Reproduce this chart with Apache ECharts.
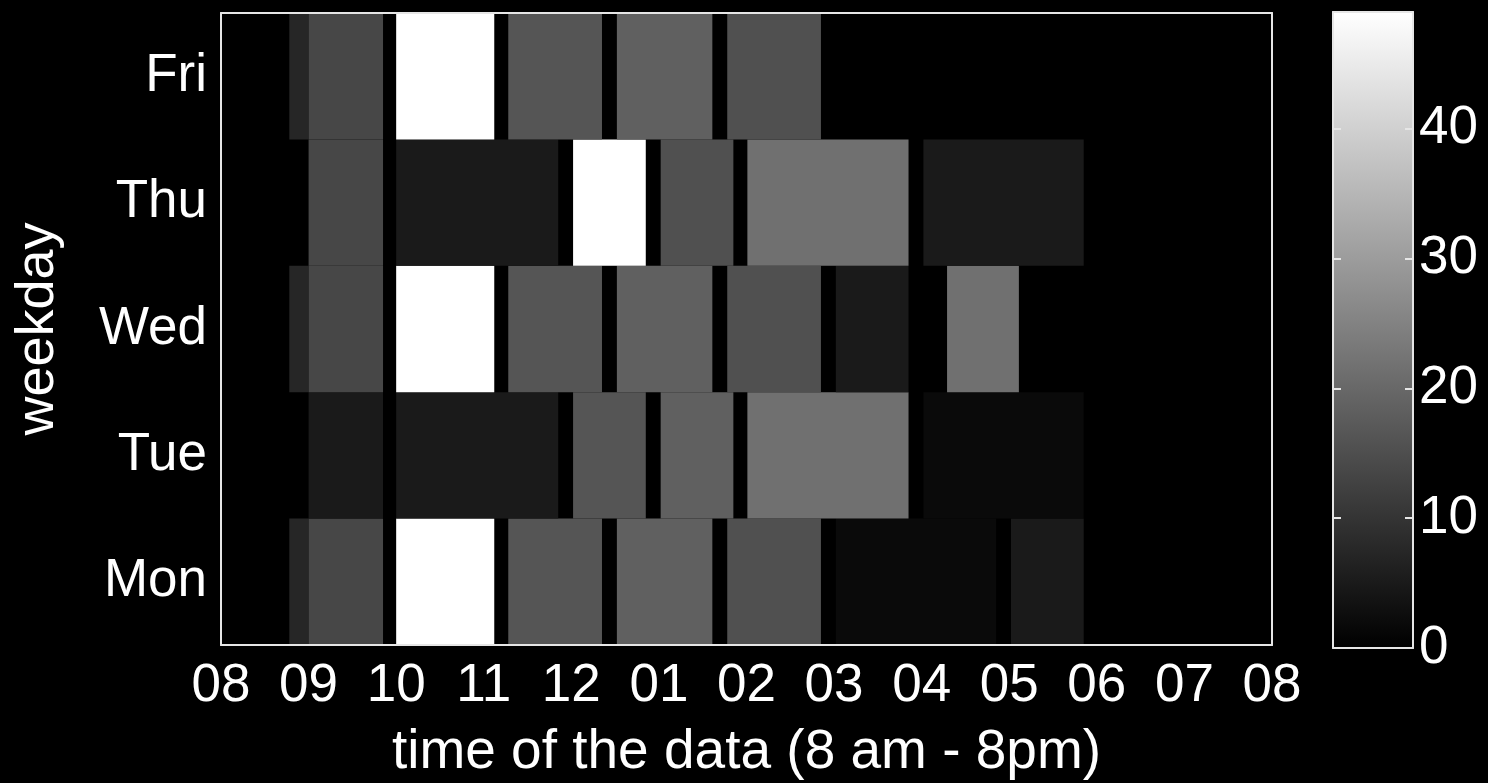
<!DOCTYPE html>
<html>
<head>
<meta charset="utf-8">
<title>weekday / time of day</title>
<script src="https://cdn.jsdelivr.net/npm/echarts@6/dist/echarts.min.js"></script>
<style>
  html, body { margin: 0; padding: 0; background: #000; }
  #chart { width: 1488px; height: 783px; }
</style>
</head>
<body>
<div id="chart"></div>
<script>
  // categories / tick labels
  var days = ['Mon', 'Tue', 'Wed', 'Thu', 'Fri'];
  var hourLabels = ['08', '09', '10', '11', '12', '01', '02', '03', '04', '05', '06', '07', '08'];
  var colorTicks = [0, 10, 20, 30, 40];
  var colorMax = 49;

  // blocks per day: [start hour, end hour, value]
  var monBlocks = [[8.78, 9.0, 7.3], [9.0, 9.85, 13.6], [10.0, 11.12, 49], [11.28, 12.35, 16.3],
    [12.52, 13.61, 18.4], [13.78, 14.85, 15.4], [15.02, 16.85, 1.9], [17.02, 17.85, 5.0]];
  var tueBlocks = [[9.0, 9.85, 5.0], [10.0, 11.85, 5.0], [12.02, 12.85, 16.3], [13.02, 13.85, 18.4],
    [14.01, 15.85, 21.5], [16.02, 17.85, 1.9]];
  var wedBlocks = [[8.78, 9.0, 7.3], [9.0, 9.85, 13.6], [10.0, 11.12, 49], [11.28, 12.35, 16.3],
    [12.52, 13.61, 18.4], [13.78, 14.85, 15.4], [15.02, 15.85, 5.0], [16.29, 17.11, 21.5]];
  var thuBlocks = [[9.0, 9.85, 13.6], [10.0, 11.85, 5.0], [12.02, 12.85, 49], [13.02, 13.85, 15.4],
    [14.01, 15.85, 21.5], [16.02, 17.85, 5.0]];
  var friBlocks = [[8.78, 9.0, 7.3], [9.0, 9.85, 13.6], [10.0, 11.12, 49], [11.28, 12.35, 16.3],
    [12.52, 13.61, 18.4], [13.78, 14.85, 15.4]];

  var dayBlocks = [monBlocks, tueBlocks, wedBlocks, thuBlocks, friBlocks];
  var cells = [];
  dayBlocks.forEach(function (blocks, d) {
    blocks.forEach(function (b) { cells.push([b[0], b[1], d, b[2]]); });
  });

  var fontName = '"Liberation Sans", Arial, sans-serif';
  var lineColor = '#e6e6e6';

  function renderBlock(params, api) {
    var p0 = api.coord([api.value(0), api.value(2)]);
    var p1 = api.coord([api.value(1), api.value(2)]);
    var h = api.size([0, 1])[1];
    return {
      type: 'rect',
      shape: { x: p0[0], y: p0[1] - h / 2, width: p1[0] - p0[0], height: h },
      style: { fill: api.visual('color') }
    };
  }

  function renderColorbar(params, api) {
    var bottom = api.coord([0, api.value(0)]);
    var top = api.coord([1, api.value(1)]);
    return {
      type: 'rect',
      shape: { x: bottom[0], y: top[1], width: top[0] - bottom[0], height: bottom[1] - top[1] },
      style: {
        fill: new echarts.graphic.LinearGradient(0, 0, 0, 1, [
          { offset: 0, color: '#ffffff' }, { offset: 1, color: '#000000' }
        ])
      }
    };
  }

  var tickLabel = { color: '#fff', fontFamily: fontName, fontSize: 53 };
  var axisLine = { show: true, onZero: false, lineStyle: { color: lineColor, width: 2 } };
  var innerTick = { inside: true, length: 10, lineStyle: { color: lineColor, width: 2 } };

  var option = {
    backgroundColor: '#000',
    animation: false,
    grid: [
      { left: 221, top: 13, width: 1051, height: 632, outerBoundsMode: 'none' },
      { left: 1333, top: 12, width: 80, height: 636, outerBoundsMode: 'none' }
    ],
    visualMap: {
      show: false,
      type: 'continuous',
      seriesIndex: 0,
      dimension: 3,
      min: 0,
      max: colorMax,
      inRange: { color: ['#000000', '#ffffff'] }
    },
    xAxis: [
      {
        gridIndex: 0, type: 'value', min: 8, max: 20, interval: 1, z: 5,
        axisLine: axisLine,
        axisTick: innerTick,
        splitLine: { show: false },
        axisLabel: Object.assign({ margin: 15, formatter: function (v) { return hourLabels[v - 8]; } }, tickLabel),
        name: 'time of the data (8 am - 8pm)',
        nameLocation: 'middle',
        nameGap: 80,
        nameTextStyle: { color: '#fff', fontFamily: fontName, fontSize: 55 }
      },
      {
        gridIndex: 0, type: 'value', position: 'top', min: 8, max: 20, interval: 1, z: 5,
        axisLine: axisLine,
        axisTick: innerTick,
        splitLine: { show: false },
        axisLabel: { show: false }
      },
      {
        gridIndex: 1, type: 'value', min: 0, max: 1, z: 5,
        axisLine: axisLine, axisTick: { show: false }, axisLabel: { show: false }, splitLine: { show: false }
      },
      {
        gridIndex: 1, type: 'value', position: 'top', min: 0, max: 1, z: 5,
        axisLine: axisLine, axisTick: { show: false }, axisLabel: { show: false }, splitLine: { show: false }
      }
    ],
    yAxis: [
      {
        gridIndex: 0, type: 'category', data: days, z: 5,
        axisLine: axisLine,
        axisTick: Object.assign({ alignWithLabel: true }, innerTick),
        axisLabel: Object.assign({ margin: 14 }, tickLabel),
        name: 'weekday',
        nameLocation: 'middle',
        nameGap: 156,
        nameTextStyle: { color: '#fff', fontFamily: fontName, fontSize: 54 }
      },
      {
        gridIndex: 0, type: 'category', data: days, position: 'right', z: 5,
        axisLine: axisLine,
        axisTick: Object.assign({ alignWithLabel: true }, innerTick),
        axisLabel: { show: false }
      },
      {
        gridIndex: 1, type: 'value', min: 0, max: colorMax, interval: 10, z: 5,
        axisLine: axisLine,
        axisTick: { inside: true, length: 8, lineStyle: { color: lineColor, width: 2 } },
        axisLabel: { show: false },
        splitLine: { show: false }
      },
      {
        gridIndex: 1, type: 'value', position: 'right', min: 0, max: colorMax, interval: 10, z: 5,
        axisLine: axisLine,
        axisTick: { inside: true, length: 8, lineStyle: { color: lineColor, width: 2 } },
        axisLabel: Object.assign({ margin: 6, showMaxLabel: false, formatter: function (v) {
          return colorTicks.indexOf(v) >= 0 ? String(v) : '';
        } }, tickLabel),
        splitLine: { show: false }
      }
    ],
    series: [
      {
        type: 'custom',
        xAxisIndex: 0, yAxisIndex: 0, z: 1,
        renderItem: renderBlock,
        encode: { x: [0, 1], y: 2 },
        data: cells
      },
      {
        type: 'custom',
        xAxisIndex: 2, yAxisIndex: 2, z: 1,
        renderItem: renderColorbar,
        encode: { y: [0, 1] },
        data: [[0, colorMax]]
      }
    ]
  };

  var chart = echarts.init(document.getElementById('chart'));
  chart.setOption(option);
</script>
</body>
</html>
